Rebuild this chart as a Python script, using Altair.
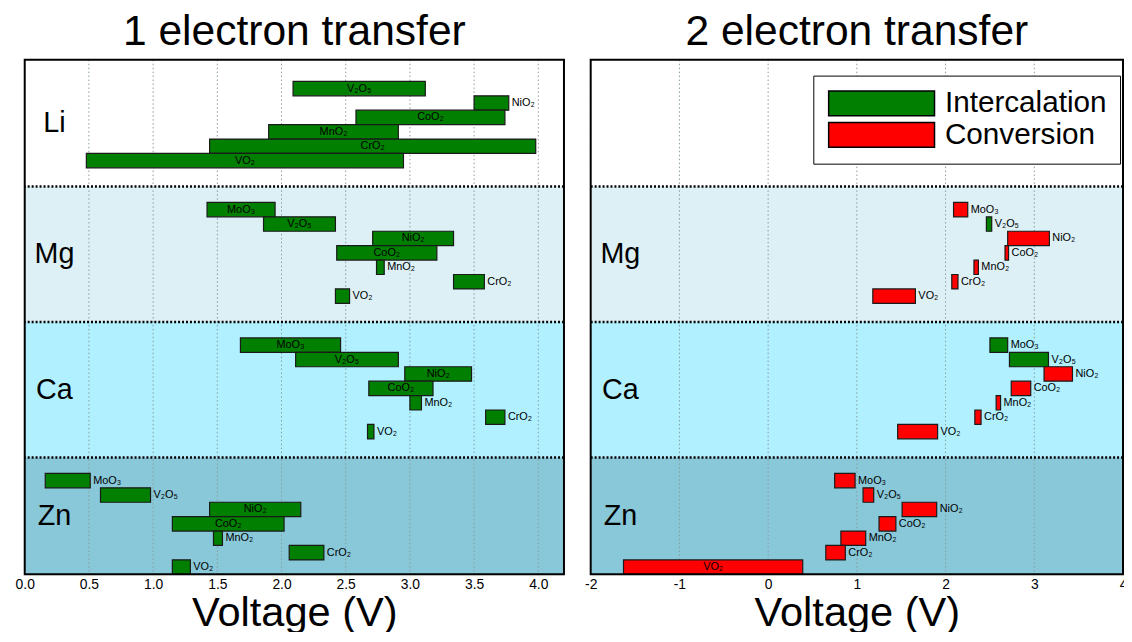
import altair as alt
import pandas as pd

FONT = "Liberation Sans"

# ---------------- data ----------------
compounds = ["MoO3", "V2O5", "NiO2", "CoO2", "MnO2", "CrO2", "VO2"]
formula_labels = ["MoO₃", "V₂O₅", "NiO₂", "CoO₂", "MnO₂", "CrO₂", "VO₂"]
metals = ["Li", "Mg", "Ca", "Zn"]
metal_offset = [0.0, 9.4, 18.8, 28.2]
band_top = [-1.0, 7.8, 17.2, 26.6]
band_bottom = [7.8, 17.2, 26.6, 34.7]
band_colors = ["#ffffff", "#ddf0f6", "#b0f0ff", "#89c8d9"]

I, C = "Intercalation", "Conversion"

# 1 electron transfer (voltage ranges, V)
one_li_start = [None, 2.09, 3.50, 2.58, 1.90, 1.44, 0.48]
one_li_end = [None, 3.12, 3.77, 3.74, 2.91, 3.98, 2.95]
one_mg_start = [1.42, 1.86, 2.71, 2.43, 2.74, 3.34, 2.42]
one_mg_end = [1.95, 2.42, 3.34, 3.21, 2.80, 3.58, 2.53]
one_ca_start = [1.68, 2.11, 2.96, 2.68, 3.00, 3.59, 2.67]
one_ca_end = [2.46, 2.91, 3.48, 3.18, 3.09, 3.74, 2.72]
one_zn_start = [0.16, 0.59, 1.44, 1.15, 1.47, 2.06, 1.15]
one_zn_end = [0.51, 0.98, 2.15, 2.02, 1.54, 2.33, 1.29]

# 2 electron transfer
two_mg_start = [2.09, 2.46, 2.70, 2.67, 2.32, 2.07, 1.18]
two_mg_end = [2.25, 2.52, 3.17, 2.71, 2.37, 2.14, 1.66]
two_mg_type = [C, I, C, C, C, C, C]
two_ca_start = [2.50, 2.72, 3.11, 2.74, 2.57, 2.33, 1.46]
two_ca_end = [2.70, 3.16, 3.43, 2.96, 2.62, 2.40, 1.91]
two_ca_type = [I, I, C, C, C, C, C]
two_zn_start = [0.75, 1.07, 1.51, 1.25, 0.82, 0.65, -1.63]
two_zn_end = [0.98, 1.19, 1.90, 1.44, 1.10, 0.87, 0.39]
two_zn_type = [C, C, C, C, C, C, C]

one_ticks = [0.0, 0.5, 1.0, 1.5, 2.0, 2.5, 3.0, 3.5, 4.0]
two_ticks = [-2, -1, 0, 1, 2, 3, 4]
one_domain = [0.0, 4.2]
two_domain = [-2.0, 4.0]

LEFT_W = 545
RIGHT_W = 538
PANEL_H = 520


def build_rows(metal, starts, ends, types, px_per_v):
    rows = []
    mi = metals.index(metal)
    for k, (s, e, t) in enumerate(zip(starts, ends, types)):
        if s is None:
            continue
        c = metal_offset[mi] + k
        rows.append(dict(metal=metal, compound=compounds[k], label=formula_labels[k],
                         start=s, end=e, mid=(s + e) / 2, type=t,
                         y0=c - 0.5, y1=c + 0.5, yc=c,
                         inside=(e - s) * px_per_v >= 60))
    return rows


one_px = LEFT_W / (one_domain[1] - one_domain[0])
two_px = RIGHT_W / (two_domain[1] - two_domain[0])

one_rows = []
one_rows += build_rows("Li", one_li_start, one_li_end, [I] * 7, one_px)
one_rows += build_rows("Mg", one_mg_start, one_mg_end, [I] * 7, one_px)
one_rows += build_rows("Ca", one_ca_start, one_ca_end, [I] * 7, one_px)
one_rows += build_rows("Zn", one_zn_start, one_zn_end, [I] * 7, one_px)
one_df = pd.DataFrame(one_rows)

two_rows = []
two_rows += build_rows("Mg", two_mg_start, two_mg_end, two_mg_type, two_px)
two_rows += build_rows("Ca", two_ca_start, two_ca_end, two_ca_type, two_px)
two_rows += build_rows("Zn", two_zn_start, two_zn_end, two_zn_type, two_px)
two_df = pd.DataFrame(two_rows)

bands_df = pd.DataFrame(dict(metal=metals, top=band_top, bottom=band_bottom,
                             color=band_colors,
                             center=[(a + b) / 2 for a, b in zip(band_top, band_bottom)]))
bounds_df = pd.DataFrame(dict(b=band_bottom[:-1]))
frame_df = pd.DataFrame(dict(f=[0]))

yscale = alt.Scale(domain=[band_top[0], band_bottom[-1]], reverse=True, nice=False, zero=False)


def panel(df, domain, ticks, label_expr, title, metal_list, show_legend, width):
    xscale = alt.Scale(domain=domain, nice=False, zero=False)
    xaxis = alt.Axis(values=ticks, labelExpr=label_expr, title="Voltage (V)", grid=False,
                     domain=False, ticks=False, labelFlush=False, labelFontSize=14,
                     labelFont=FONT, labelColor="black", labelPadding=3,
                     titleFontSize=42, titleFont=FONT, titleFontWeight="normal",
                     titleColor="black", titlePadding=2)
    bg = alt.Chart(bands_df).mark_rect().encode(
        x=alt.value(0), x2=alt.value("width"),
        y=alt.Y("top:Q", scale=yscale, axis=None), y2="bottom:Q",
        fill=alt.Fill("color:N", scale=None),
    )
    grid = alt.Chart(pd.DataFrame(dict(start=ticks))).mark_rule(
        color="#8a9aa0", strokeDash=[1.5, 2.5], strokeWidth=1
    ).encode(x=alt.X("start:Q", scale=xscale, axis=xaxis))
    bounds = alt.Chart(bounds_df).mark_rule(
        color="black", strokeDash=[2, 2], strokeWidth=2.5
    ).encode(y=alt.Y("b:Q", scale=yscale, axis=None))
    legend = alt.Legend(
        title=None, orient="none", legendX=225, legendY=16,
        symbolType="M-1,-1H7.56V1H-1Z", symbolSize=625,
        symbolStrokeColor="black", symbolStrokeWidth=1.5, symbolOpacity=1,
        labelFontSize=30, labelFont=FONT, labelColor="black", labelOffset=90,
        labelLimit=400, padding=13, rowPadding=0, strokeColor="black", fillColor="white",
    ) if show_legend else None
    bars = alt.Chart(df).mark_rect(stroke="#1a1a1a", strokeWidth=1.2, opacity=1).encode(
        x=alt.X("start:Q", scale=xscale, axis=xaxis),
        x2="end:Q",
        y=alt.Y("y0:Q", scale=yscale, axis=None), y2="y1:Q",
        color=alt.Color("type:N", scale=alt.Scale(domain=[I, C], range=["#007f00", "#ff0000"]),
                        legend=legend),
    )
    lab_in = alt.Chart(df).transform_filter("datum.inside").mark_text(
        fontSize=11, font=FONT, color="black", baseline="middle", align="center"
    ).encode(x=alt.X("mid:Q", scale=xscale, axis=xaxis),
             y=alt.Y("yc:Q", scale=yscale, axis=None), text="label:N")
    lab_out = alt.Chart(df).transform_filter("!datum.inside").mark_text(
        fontSize=11, font=FONT, color="black", baseline="middle", align="left", dx=3
    ).encode(x=alt.X("end:Q", scale=xscale, axis=xaxis),
             y=alt.Y("yc:Q", scale=yscale, axis=None), text="label:N")
    mlabels = alt.Chart(bands_df).transform_filter(
        alt.FieldOneOfPredicate(field="metal", oneOf=metal_list)
    ).mark_text(fontSize=29, font=FONT, color="black", baseline="middle", align="center").encode(
        x=alt.value(30), y=alt.Y("center:Q", scale=yscale, axis=None), text="metal:N"
    )
    frame = alt.Chart(frame_df).mark_rect(fill="transparent", stroke="black", strokeWidth=2).encode(
        x=alt.value(0), x2=alt.value("width"), y=alt.value(0), y2=alt.value("height")
    )
    return alt.layer(bg, grid, bounds, bars, lab_in, lab_out, mlabels, frame).properties(
        width=width, height=PANEL_H,
        title=alt.Title(title, fontSize=43, font=FONT, fontWeight="normal", color="black",
                        anchor="middle", offset=5),
    )


left = panel(one_df, one_domain, one_ticks, "format(datum.value, '.1f')",
             "1 electron transfer", ["Li", "Mg", "Ca", "Zn"], False, LEFT_W)
right = panel(two_df, two_domain, two_ticks,
              "datum.value < 0 ? '-' + format(abs(datum.value), 'd') : format(datum.value, 'd')",
              "2 electron transfer", ["Mg", "Ca", "Zn"], True, RIGHT_W)

chart = alt.hconcat(left, right, spacing=18).resolve_legend(color="independent").properties(
    padding={"left": 5.9, "top": -1, "right": -4, "bottom": -6}
).configure_view(stroke=None).configure(background="white")

chart.save("out.html", embed_options={"renderer": "svg", "actions": False})
